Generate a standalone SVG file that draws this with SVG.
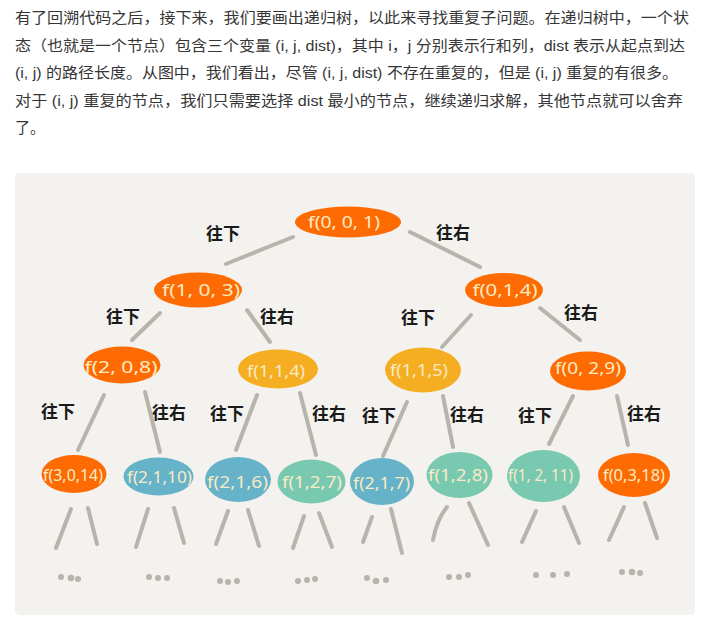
<svg xmlns="http://www.w3.org/2000/svg" width="710" height="617" viewBox="0 0 710 617">
  <style>
    .para { font-family: "Liberation Sans", "Noto Sans CJK SC", sans-serif; font-size: 15px; fill: #363636; }
    .panel { fill: #f3f2ee; }
    .edge { stroke: #b7b4ac; stroke-width: 4; stroke-linecap: round; fill: none; }
    .dot { fill: #b7b4ac; }
    .lbl { font-family: "Noto Sans CJK SC", sans-serif; font-size: 17px; font-weight: 700; fill: #1a1a1a; text-anchor: middle; }
    .ntxt { font-family: "Noto Sans", "DejaVu Sans", sans-serif; font-size: 16px; fill: #f8ebc4; text-anchor: middle; }
    .orange { fill: #fe6b03; }
    .amber { fill: #f5ad22; }
    .blue { fill: #66b2c8; }
    .green { fill: #79c9b1; }
  </style>

  <!-- intro paragraph -->
  <g id="intro">
    <text class="para" x="15" y="23" textLength="674" lengthAdjust="spacingAndGlyphs">有了回溯代码之后，接下来，我们要画出递归树，以此来寻找重复子问题。在递归树中，一个状</text>
    <text class="para" x="15" y="50.5" textLength="670" lengthAdjust="spacingAndGlyphs">态（也就是一个节点）包含三个变量 (i, j, dist)，其中 i，j 分别表示行和列，dist 表示从起点到达</text>
    <text class="para" x="15" y="78" textLength="663" lengthAdjust="spacingAndGlyphs">(i, j) 的路径长度。从图中，我们看出，尽管 (i, j, dist) 不存在重复的，但是 (i, j) 重复的有很多。</text>
    <text class="para" x="15" y="105.5" textLength="668" lengthAdjust="spacingAndGlyphs">对于 (i, j) 重复的节点，我们只需要选择 dist 最小的节点，继续递归求解，其他节点就可以舍弃</text>
    <text class="para" x="15" y="133">了。</text>
  </g>

  <!-- background panel -->
  <rect class="panel" x="15" y="173" width="680" height="442" rx="5"/>

  <!-- connectors -->
  <g id="connectors">
    <line class="edge" x1="293" y1="237" x2="226" y2="264"/>
    <line class="edge" x1="410" y1="232" x2="480" y2="267"/>
    <line class="edge" x1="160" y1="313" x2="132" y2="340"/>
    <line class="edge" x1="247" y1="310" x2="270" y2="342"/>
    <line class="edge" x1="471" y1="315" x2="442" y2="347"/>
    <line class="edge" x1="540" y1="308" x2="580" y2="340"/>
    <line class="edge" x1="104" y1="395" x2="78" y2="450"/>
    <line class="edge" x1="145" y1="392" x2="160" y2="452"/>
    <line class="edge" x1="257" y1="395" x2="236" y2="450"/>
    <line class="edge" x1="300" y1="393" x2="316" y2="455"/>
    <line class="edge" x1="407" y1="402" x2="383" y2="456"/>
    <line class="edge" x1="443" y1="396" x2="453" y2="447"/>
    <line class="edge" x1="573" y1="396" x2="549" y2="444"/>
    <line class="edge" x1="617" y1="396" x2="628" y2="445"/>
    <!-- open branches below the last row -->
    <line class="edge" x1="71" y1="509" x2="56" y2="548"/>
    <line class="edge" x1="88" y1="508" x2="97" y2="544"/>
    <line class="edge" x1="148" y1="509" x2="136" y2="547"/>
    <line class="edge" x1="174" y1="508" x2="184" y2="543"/>
    <line class="edge" x1="228" y1="511" x2="216" y2="544"/>
    <line class="edge" x1="248" y1="510" x2="259" y2="546"/>
    <line class="edge" x1="304" y1="516" x2="293" y2="548"/>
    <line class="edge" x1="319" y1="513" x2="332" y2="547"/>
    <line class="edge" x1="372" y1="517" x2="363" y2="542"/>
    <line class="edge" x1="391" y1="509" x2="402" y2="553"/>
    <path class="edge" d="M447 507 Q437 519 433 540"/>
    <line class="edge" x1="469" y1="503" x2="488" y2="545"/>
    <line class="edge" x1="536" y1="511" x2="522" y2="542"/>
    <line class="edge" x1="564" y1="507" x2="579" y2="543"/>
    <line class="edge" x1="624" y1="507" x2="609" y2="540"/>
    <line class="edge" x1="645" y1="503" x2="657" y2="538"/>
  </g>

  <!-- ellipsis marks -->
  <g id="ellipses">
    <circle class="dot" cx="61" cy="577" r="3"/><circle class="dot" cx="71" cy="578" r="3.3"/><circle class="dot" cx="78" cy="579" r="3"/>
    <circle class="dot" cx="149" cy="577" r="3"/><circle class="dot" cx="158" cy="578" r="3"/><circle class="dot" cx="167" cy="578" r="3"/>
    <circle class="dot" cx="220" cy="581" r="3"/><circle class="dot" cx="228" cy="582" r="3"/><circle class="dot" cx="237" cy="581" r="3"/>
    <circle class="dot" cx="298" cy="581" r="3"/><circle class="dot" cx="307" cy="580" r="3"/><circle class="dot" cx="315" cy="579" r="3"/>
    <circle class="dot" cx="367" cy="578" r="3"/><circle class="dot" cx="376" cy="581" r="3.3"/><circle class="dot" cx="386" cy="580" r="3"/>
    <circle class="dot" cx="449" cy="577" r="3"/><circle class="dot" cx="459" cy="577" r="3"/><circle class="dot" cx="468" cy="575" r="3"/>
    <circle class="dot" cx="536" cy="575" r="3"/><circle class="dot" cx="553" cy="575" r="3"/><circle class="dot" cx="567" cy="574" r="3"/>
    <circle class="dot" cx="622" cy="572" r="3"/><circle class="dot" cx="632" cy="572" r="3.3"/><circle class="dot" cx="640" cy="573" r="3"/>
  </g>

  <!-- direction labels -->
  <g id="labels">
    <text class="lbl" x="223" y="240">往下</text>
    <text class="lbl" x="453" y="239">往右</text>
    <text class="lbl" x="123" y="323">往下</text>
    <text class="lbl" x="277" y="323">往右</text>
    <text class="lbl" x="418" y="324">往下</text>
    <text class="lbl" x="581" y="319">往右</text>
    <text class="lbl" x="58" y="418">往下</text>
    <text class="lbl" x="169" y="419">往右</text>
    <text class="lbl" x="227" y="420">往下</text>
    <text class="lbl" x="329" y="420">往右</text>
    <text class="lbl" x="379" y="422">往下</text>
    <text class="lbl" x="467" y="421">往右</text>
    <text class="lbl" x="535" y="422">往下</text>
    <text class="lbl" x="644" y="420">往右</text>
  </g>

  <!-- level 0 -->
  <g id="n001">
    <ellipse class="orange" cx="348" cy="222" rx="53" ry="15.5"/>
    <text class="ntxt" x="344" y="228" textLength="72" lengthAdjust="spacingAndGlyphs">f(0, 0, 1)</text>
  </g>

  <!-- level 1 -->
  <g id="n103">
    <ellipse class="orange" cx="198" cy="290" rx="44" ry="17.5"/>
    <text class="ntxt" x="201" y="296" textLength="78" lengthAdjust="spacingAndGlyphs">f(1, 0, 3)</text>
  </g>
  <g id="n014">
    <ellipse class="orange" cx="504" cy="290" rx="39" ry="17"/>
    <text class="ntxt" x="505" y="296" textLength="65" lengthAdjust="spacingAndGlyphs">f(0,1,4)</text>
  </g>

  <!-- level 2 -->
  <g id="n208">
    <ellipse class="orange" cx="122" cy="365" rx="38.5" ry="18.5"/>
    <text class="ntxt" x="121" y="373" textLength="73" lengthAdjust="spacingAndGlyphs">f(2, 0,8)</text>
  </g>
  <g id="n114">
    <ellipse class="amber" cx="278" cy="369" rx="40" ry="19.5"/>
    <text class="ntxt" x="276" y="377" textLength="58" lengthAdjust="spacingAndGlyphs">f(1,1,4)</text>
  </g>
  <g id="n115">
    <ellipse class="amber" cx="423" cy="370" rx="38" ry="22.5"/>
    <text class="ntxt" x="419" y="376" textLength="58" lengthAdjust="spacingAndGlyphs">f(1,1,5)</text>
  </g>
  <g id="n029">
    <ellipse class="orange" cx="588" cy="371" rx="38" ry="19.5"/>
    <text class="ntxt" x="588" y="374" textLength="66" lengthAdjust="spacingAndGlyphs">f(0, 2,9)</text>
  </g>

  <!-- level 3 -->
  <g id="n3014">
    <ellipse class="orange" cx="74" cy="474" rx="32.5" ry="19"/>
    <text class="ntxt" x="73" y="481" textLength="60" lengthAdjust="spacingAndGlyphs">f(3,0,14)</text>
  </g>
  <g id="n2110">
    <ellipse class="blue" cx="158.5" cy="476.5" rx="35" ry="19"/>
    <text class="ntxt" x="159.5" y="483" textLength="65" lengthAdjust="spacingAndGlyphs">f(2,1,10)</text>
  </g>
  <g id="n216">
    <ellipse class="blue" cx="238" cy="479.5" rx="33" ry="22.5"/>
    <text class="ntxt" x="237.5" y="488" textLength="61" lengthAdjust="spacingAndGlyphs">f(2,1,6)</text>
  </g>
  <g id="n127">
    <ellipse class="green" cx="311.5" cy="481.5" rx="34" ry="22"/>
    <text class="ntxt" x="312" y="488" textLength="60" lengthAdjust="spacingAndGlyphs">f(1,2,7)</text>
  </g>
  <g id="n217">
    <ellipse class="blue" cx="382" cy="481.5" rx="32" ry="23.5"/>
    <text class="ntxt" x="381.5" y="489" textLength="57" lengthAdjust="spacingAndGlyphs">f(2,1,7)</text>
  </g>
  <g id="n128">
    <ellipse class="green" cx="459.5" cy="475" rx="33" ry="23"/>
    <text class="ntxt" x="458" y="481" textLength="60" lengthAdjust="spacingAndGlyphs">f(1,2,8)</text>
  </g>
  <g id="n1211">
    <ellipse class="green" cx="543.5" cy="476" rx="36.5" ry="26"/>
    <text class="ntxt" x="540.5" y="481" textLength="65" lengthAdjust="spacingAndGlyphs">f(1, 2, 11)</text>
  </g>
  <g id="n0318">
    <ellipse class="orange" cx="634" cy="475" rx="36" ry="22"/>
    <text class="ntxt" x="634" y="481" textLength="62" lengthAdjust="spacingAndGlyphs">f(0,3,18)</text>
  </g>
</svg>
